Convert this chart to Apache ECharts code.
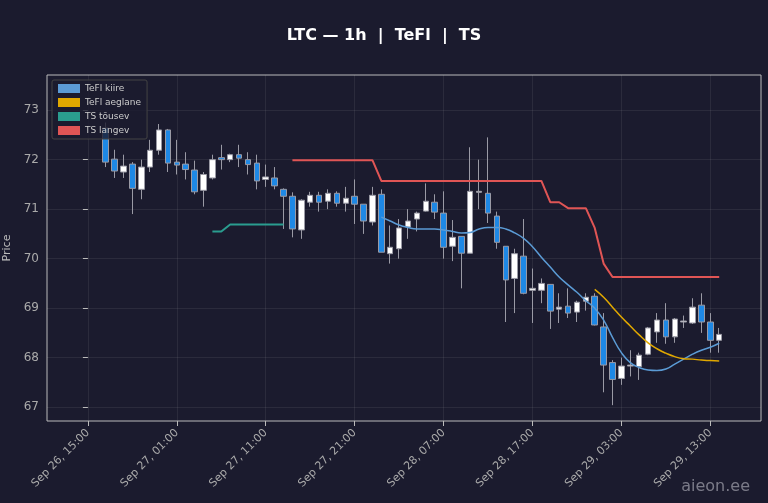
<!DOCTYPE html>
<html><head><meta charset="utf-8">
<script src="https://cdn.jsdelivr.net/npm/echarts@6/dist/echarts.min.js"></script>
<style>html,body{margin:0;background:#1b1b2e}#c{width:768px;height:503px}</style>
</head><body><div id="c"></div>
<script>
// hours since Sep 26 15:00
const hours = Array.from({length:70},(_,i)=>i+2);
const opens  = [72.64,72.01,71.75,71.91,71.4,71.85,72.19,72.6,71.95,71.91,71.79,71.38,71.63,72.04,72.0,72.1,72.0,71.93,71.6,71.63,71.4,71.26,70.58,71.14,71.28,71.16,71.32,71.12,71.26,71.1,70.74,71.3,70.1,70.2,70.64,70.8,70.96,71.14,70.92,70.25,70.45,70.11,71.34,71.32,70.86,70.25,69.6,70.05,69.36,69.36,69.48,68.98,69.04,68.92,69.14,69.24,68.62,67.9,67.58,67.83,67.82,68.07,68.52,68.76,68.42,68.72,68.7,69.06,68.72,68.35];
const closes = [71.95,71.77,71.87,71.42,71.85,72.19,72.6,71.93,71.89,71.8,71.35,71.7,72.0,72.0,72.1,72.03,71.9,71.57,71.65,71.47,71.26,70.6,71.18,71.28,71.14,71.32,71.12,71.22,71.1,70.76,71.28,70.13,70.23,70.62,70.76,70.92,71.16,70.94,70.23,70.43,70.11,71.36,71.36,70.92,70.33,69.57,70.1,69.3,69.4,69.5,68.94,69.02,68.9,69.12,69.22,68.66,67.85,67.56,67.83,67.85,68.05,68.6,68.76,68.42,68.78,68.74,69.02,68.72,68.35,68.47];
const lows   = [71.85,71.63,71.63,70.9,71.2,71.75,72.1,71.75,71.7,71.6,71.3,71.05,71.6,71.8,71.95,71.85,71.7,71.4,71.45,71.4,70.6,70.43,70.4,71.05,70.95,71.0,71.05,70.95,70.7,70.5,70.67,70.13,69.9,70.0,70.4,70.55,70.95,70.8,70.0,69.95,69.4,70.11,71.0,70.72,70.2,68.72,68.9,69.28,68.7,69.1,68.58,68.7,68.8,68.72,68.95,68.65,67.3,67.04,67.45,67.62,67.55,68.05,68.3,68.28,68.3,68.6,68.68,68.5,68.1,68.1];
const highs  = [72.75,72.2,72.1,71.95,72.0,72.4,72.72,72.62,72.4,72.15,71.98,71.75,72.1,72.3,72.12,72.3,72.15,72.1,71.9,71.85,71.42,71.34,71.2,71.35,71.35,71.4,71.36,71.45,71.6,71.1,71.45,71.4,70.67,70.8,71.0,70.95,71.52,71.3,71.36,70.78,70.45,72.25,72.0,72.45,70.95,70.25,70.2,70.8,69.8,69.6,69.48,69.3,69.4,69.15,69.3,69.3,68.9,67.95,68.0,68.15,68.1,68.62,68.9,69.1,68.8,68.85,69.2,69.3,68.9,68.6];
// indicator lines: start index into candles + values
const kiireStart = 31;
const kiire = [70.84,70.76,70.68,70.63,70.6,70.6,70.6,70.58,70.55,70.52,70.53,70.6,70.63,70.63,70.6,70.52,70.41,70.24,70.03,69.83,69.63,69.47,69.32,69.15,69.0,68.76,68.41,68.1,67.9,67.8,67.75,67.74,67.77,67.87,67.97,68.07,68.15,68.21,68.29];
const aeglaneStart = 55;
const aeglane = [69.38,69.22,69.02,68.82,68.64,68.46,68.3,68.18,68.09,68.02,67.98,67.97,67.95,67.94,67.93];
const tousevStart = 12;
const tousev = [70.55,70.55,70.69,70.69,70.69,70.69,70.69,70.69,70.69];
const langevStart = 21;
const langev = [71.99,71.99,71.99,71.99,71.99,71.99,71.99,71.99,71.99,71.99,71.57,71.57,71.57,71.57,71.57,71.57,71.57,71.57,71.57,71.57,71.57,71.57,71.57,71.57,71.57,71.57,71.57,71.57,71.57,71.14,71.14,71.02,71.02,71.02,70.62,69.9,69.63,69.63,69.63,69.63,69.63,69.63,69.63,69.63,69.63,69.63,69.63,69.63,69.63];
const xTicks = [0,10,20,30,40,50,60,70];
const yTicks = [67,68,69,70,71,72,73];

const candles = hours.map((h,i)=>[h,opens[i],closes[i],lows[i],highs[i]]);
const mk = (start, arr) => arr.map((v,i)=>[hours[start+i], v]);
const months=['Jan','Feb','Mar','Apr','May','Jun','Jul','Aug','Sep','Oct','Nov','Dec'];
function fmt(h){const d=new Date(Date.UTC(2025,8,26,15)+h*3600000);
 return months[d.getUTCMonth()]+' '+d.getUTCDate()+', '+String(d.getUTCHours()).padStart(2,'0')+':00';}
const ch = echarts.init(document.getElementById('c'));
const grid='rgba(255,255,255,0.07)';
ch.setOption({
 backgroundColor:'#1b1b2e', animation:false,
 title:{text:'LTC — 1h  |  TeFl  |  TS',left:'center',top:23,textStyle:{color:'#fff',fontSize:16,fontWeight:'bold',fontFamily:'DejaVu Sans'}},
 graphic:[{type:'text',right:18,bottom:8,style:{text:'aieon.ee',fill:'rgba(200,200,210,0.55)',fontSize:16,fontFamily:'DejaVu Sans'}}],
 legend:{orient:'vertical',left:52,top:80,itemWidth:22,itemHeight:9,itemGap:5,padding:[4,6],
   backgroundColor:'rgba(27,27,46,0.8)',borderColor:'#444',borderWidth:1,borderRadius:2,
   textStyle:{color:'#ccc',fontSize:9,fontFamily:'DejaVu Sans'},icon:'rect',
   data:['TeFl kiire','TeFl aeglane','TS tõusev','TS langev']},
 grid:{left:47,right:7,top:75,bottom:82,show:true,borderColor:'#bbb',borderWidth:1,outerBoundsMode:'none',containLabel:false},
 xAxis:{type:'value',min:-4.6,max:75.7,
   axisLine:{show:false},
   axisTick:{customValues:xTicks,lineStyle:{color:'#bbb'}},
   axisLabel:{customValues:xTicks,formatter:fmt,rotate:45,color:'#aaa',fontSize:11,fontFamily:'DejaVu Sans',margin:10},
   splitLine:{show:true,lineStyle:{color:grid}}},
 yAxis:{type:'value',min:66.72,max:73.71,name:'Price',nameLocation:'middle',nameGap:27,
   nameTextStyle:{color:'#bbb',fontSize:11,fontFamily:'DejaVu Sans'},
   axisLine:{show:false},
   axisTick:{show:true,customValues:yTicks,lineStyle:{color:'#bbb'}},
   axisLabel:{customValues:yTicks,color:'#aaa',fontSize:12,fontFamily:'DejaVu Sans'},
   splitLine:{show:true,lineStyle:{color:grid}}},
 series:[
  {type:'candlestick',data:candles,encode:{x:0,y:[1,2,3,4]},barWidth:6,
   itemStyle:{color:'#ffffff',color0:'#1e88e5',borderColor:'#9a9aa5',borderColor0:'#9a9aa5',borderWidth:1}},
  {name:'TeFl kiire',type:'line',data:mk(kiireStart,kiire),smooth:true,showSymbol:false,lineStyle:{color:'#5b9bd5',width:1.5},itemStyle:{color:'#5b9bd5'}},
  {name:'TeFl aeglane',type:'line',data:mk(aeglaneStart,aeglane),smooth:true,showSymbol:false,lineStyle:{color:'#e0a800',width:1.5},itemStyle:{color:'#e0a800'}},
  {name:'TS tõusev',type:'line',data:mk(tousevStart,tousev),showSymbol:false,lineStyle:{color:'#2a9d8f',width:2},itemStyle:{color:'#2a9d8f'}},
  {name:'TS langev',type:'line',data:mk(langevStart,langev),showSymbol:false,lineStyle:{color:'#e05555',width:2},itemStyle:{color:'#e05555'}}
 ]
});
</script></body></html>
